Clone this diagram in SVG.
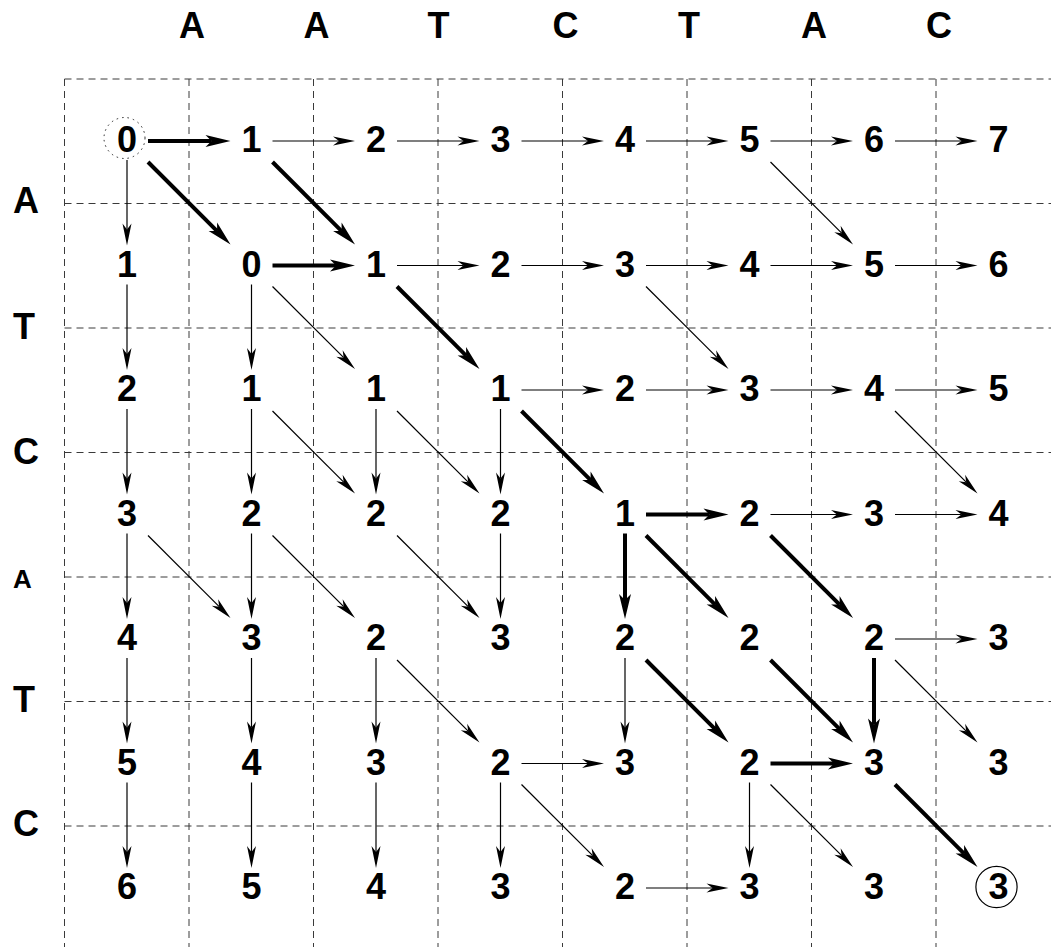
<svg xmlns="http://www.w3.org/2000/svg" width="1051" height="947" viewBox="0 0 1051 947">
<defs>
<style>
.grid line{stroke:#3a3a3a;stroke-width:1;stroke-dasharray:7 5;fill:none}
.lbl{font-family:"Liberation Sans",Arial,sans-serif;font-weight:bold;font-size:36px;fill:#000}
.hdr{text-anchor:middle}
.sm{font-size:26px}
.n text{font-family:"Liberation Sans",Arial,sans-serif;font-weight:bold;font-size:36px;fill:#000;text-anchor:middle}
.t{stroke:#000;stroke-width:1.2;fill:none;marker-end:url(#ht)}
.k{stroke:#000;stroke-width:4;fill:none;marker-end:url(#hk)}
</style>
<marker id="ht" markerUnits="userSpaceOnUse" orient="auto" refX="0" refY="0" markerWidth="1" markerHeight="1" overflow="visible">
<path d="M16,0 L-6,-4.5 L0,0 L-6,4.5 Z" fill="#000"/>
</marker>
<marker id="hk" markerUnits="userSpaceOnUse" orient="auto" refX="0" refY="0" markerWidth="1" markerHeight="1" overflow="visible">
<path d="M19,0 L-6,-6 L0,0 L-6,6 Z" fill="#000"/>
</marker>
</defs>
<rect width="1051" height="947" fill="#fff"/>
<g class="grid">
<line x1="64.5" y1="79" x2="64.5" y2="947"/>
<line x1="189" y1="79" x2="189" y2="947"/>
<line x1="313.5" y1="79" x2="313.5" y2="947"/>
<line x1="438" y1="79" x2="438" y2="947"/>
<line x1="562.5" y1="79" x2="562.5" y2="947"/>
<line x1="687" y1="79" x2="687" y2="947"/>
<line x1="811.5" y1="79" x2="811.5" y2="947"/>
<line x1="936" y1="79" x2="936" y2="947"/>
<line x1="64.5" y1="79" x2="1051" y2="79"/>
<line x1="64.5" y1="203.5" x2="1051" y2="203.5"/>
<line x1="64.5" y1="328" x2="1051" y2="328"/>
<line x1="64.5" y1="452.5" x2="1051" y2="452.5"/>
<line x1="64.5" y1="577" x2="1051" y2="577"/>
<line x1="64.5" y1="701.5" x2="1051" y2="701.5"/>
<line x1="64.5" y1="826" x2="1051" y2="826"/>
</g>
<g id="labels" class="lbl">
<text class="hdr" x="192" y="38">A</text>
<text class="hdr" x="316.5" y="38">A</text>
<text class="hdr" x="438.5" y="38">T</text>
<text class="hdr" x="565.5" y="38">C</text>
<text class="hdr" x="689" y="38">T</text>
<text class="hdr" x="814" y="38">A</text>
<text class="hdr" x="939" y="38">C</text>
<text x="13" y="213">A</text>
<text x="13" y="339">T</text>
<text x="13" y="463.5">C</text>
<text class="sm" x="13" y="587.5">A</text>
<text x="13" y="711.5">T</text>
<text x="13" y="836">C</text>
</g>
<g id="connectors">
<line class="k" x1="148" y1="141" x2="211.5" y2="141"/>
<line class="t" x1="272.5" y1="141" x2="339" y2="141"/>
<line class="t" x1="397" y1="141" x2="463.5" y2="141"/>
<line class="t" x1="521.5" y1="141" x2="588" y2="141"/>
<line class="t" x1="646" y1="141" x2="712.5" y2="141"/>
<line class="t" x1="770.5" y1="141" x2="837" y2="141"/>
<line class="t" x1="895" y1="141" x2="961.5" y2="141"/>
<line class="k" x1="272.5" y1="265.5" x2="336" y2="265.5"/>
<line class="t" x1="397" y1="265.5" x2="463.5" y2="265.5"/>
<line class="t" x1="521.5" y1="265.5" x2="588" y2="265.5"/>
<line class="t" x1="646" y1="265.5" x2="712.5" y2="265.5"/>
<line class="t" x1="770.5" y1="265.5" x2="837" y2="265.5"/>
<line class="t" x1="895" y1="265.5" x2="961.5" y2="265.5"/>
<line class="t" x1="521.5" y1="390" x2="588" y2="390"/>
<line class="t" x1="646" y1="390" x2="712.5" y2="390"/>
<line class="t" x1="770.5" y1="390" x2="837" y2="390"/>
<line class="t" x1="895" y1="390" x2="961.5" y2="390"/>
<line class="k" x1="646" y1="514.5" x2="709.5" y2="514.5"/>
<line class="t" x1="770.5" y1="514.5" x2="837" y2="514.5"/>
<line class="t" x1="895" y1="514.5" x2="961.5" y2="514.5"/>
<line class="t" x1="895" y1="639" x2="961.5" y2="639"/>
<line class="t" x1="521.5" y1="763.5" x2="588" y2="763.5"/>
<line class="k" x1="770.5" y1="763.5" x2="834" y2="763.5"/>
<line class="t" x1="646" y1="888" x2="712.5" y2="888"/>
<line class="t" x1="127" y1="160" x2="127" y2="229.5"/>
<line class="t" x1="127" y1="284.5" x2="127" y2="354"/>
<line class="t" x1="251.5" y1="284.5" x2="251.5" y2="354"/>
<line class="t" x1="127" y1="409" x2="127" y2="478.5"/>
<line class="t" x1="251.5" y1="409" x2="251.5" y2="478.5"/>
<line class="t" x1="376" y1="409" x2="376" y2="478.5"/>
<line class="t" x1="500.5" y1="409" x2="500.5" y2="478.5"/>
<line class="t" x1="127" y1="533.5" x2="127" y2="603"/>
<line class="t" x1="251.5" y1="533.5" x2="251.5" y2="603"/>
<line class="t" x1="500.5" y1="533.5" x2="500.5" y2="603"/>
<line class="k" x1="625" y1="533.5" x2="625" y2="600"/>
<line class="t" x1="127" y1="658" x2="127" y2="727.5"/>
<line class="t" x1="251.5" y1="658" x2="251.5" y2="727.5"/>
<line class="t" x1="376" y1="658" x2="376" y2="727.5"/>
<line class="t" x1="625" y1="658" x2="625" y2="727.5"/>
<line class="k" x1="874" y1="658" x2="874" y2="724.5"/>
<line class="t" x1="127" y1="782.5" x2="127" y2="852"/>
<line class="t" x1="251.5" y1="782.5" x2="251.5" y2="852"/>
<line class="t" x1="376" y1="782.5" x2="376" y2="852"/>
<line class="t" x1="500.5" y1="782.5" x2="500.5" y2="852"/>
<line class="t" x1="749.5" y1="782.5" x2="749.5" y2="852"/>
<line class="k" x1="148" y1="162" x2="217.1" y2="231.1"/>
<line class="k" x1="272.5" y1="162" x2="341.6" y2="231.1"/>
<line class="t" x1="770.5" y1="162" x2="841.7" y2="233.2"/>
<line class="t" x1="272.5" y1="286.5" x2="343.7" y2="357.7"/>
<line class="k" x1="397" y1="286.5" x2="466.1" y2="355.6"/>
<line class="t" x1="646" y1="286.5" x2="717.2" y2="357.7"/>
<line class="t" x1="272.5" y1="411" x2="343.7" y2="482.2"/>
<line class="t" x1="397" y1="411" x2="468.2" y2="482.2"/>
<line class="k" x1="521.5" y1="411" x2="590.6" y2="480.1"/>
<line class="t" x1="895" y1="411" x2="966.2" y2="482.2"/>
<line class="t" x1="148" y1="535.5" x2="219.2" y2="606.7"/>
<line class="t" x1="272.5" y1="535.5" x2="343.7" y2="606.7"/>
<line class="t" x1="397" y1="535.5" x2="468.2" y2="606.7"/>
<line class="k" x1="646" y1="535.5" x2="715.1" y2="604.6"/>
<line class="k" x1="770.5" y1="535.5" x2="839.6" y2="604.6"/>
<line class="t" x1="397" y1="660" x2="468.2" y2="731.2"/>
<line class="k" x1="646" y1="660" x2="715.1" y2="729.1"/>
<line class="k" x1="770.5" y1="660" x2="839.6" y2="729.1"/>
<line class="t" x1="895" y1="660" x2="966.2" y2="731.2"/>
<line class="t" x1="521.5" y1="784.5" x2="592.7" y2="855.7"/>
<line class="t" x1="770.5" y1="784.5" x2="841.7" y2="855.7"/>
<line class="k" x1="895" y1="784.5" x2="964.1" y2="853.6"/>
</g>
<g id="nodes" class="n">
<g id="n0-0"><circle cx="124.5" cy="138" r="20.5" fill="none" stroke="#222" stroke-width="1" stroke-dasharray="1.5 4"/><text x="127" y="152">0</text></g>
<g id="n0-1"><text x="251.5" y="152">1</text></g>
<g id="n0-2"><text x="376" y="152">2</text></g>
<g id="n0-3"><text x="500.5" y="152">3</text></g>
<g id="n0-4"><text x="625" y="152">4</text></g>
<g id="n0-5"><text x="749.5" y="152">5</text></g>
<g id="n0-6"><text x="874" y="152">6</text></g>
<g id="n0-7"><text x="998.5" y="152">7</text></g>
<g id="n1-0"><text x="127" y="276.5">1</text></g>
<g id="n1-1"><text x="251.5" y="276.5">0</text></g>
<g id="n1-2"><text x="376" y="276.5">1</text></g>
<g id="n1-3"><text x="500.5" y="276.5">2</text></g>
<g id="n1-4"><text x="625" y="276.5">3</text></g>
<g id="n1-5"><text x="749.5" y="276.5">4</text></g>
<g id="n1-6"><text x="874" y="276.5">5</text></g>
<g id="n1-7"><text x="998.5" y="276.5">6</text></g>
<g id="n2-0"><text x="127" y="401">2</text></g>
<g id="n2-1"><text x="251.5" y="401">1</text></g>
<g id="n2-2"><text x="376" y="401">1</text></g>
<g id="n2-3"><text x="500.5" y="401">1</text></g>
<g id="n2-4"><text x="625" y="401">2</text></g>
<g id="n2-5"><text x="749.5" y="401">3</text></g>
<g id="n2-6"><text x="874" y="401">4</text></g>
<g id="n2-7"><text x="998.5" y="401">5</text></g>
<g id="n3-0"><text x="127" y="525.5">3</text></g>
<g id="n3-1"><text x="251.5" y="525.5">2</text></g>
<g id="n3-2"><text x="376" y="525.5">2</text></g>
<g id="n3-3"><text x="500.5" y="525.5">2</text></g>
<g id="n3-4"><text x="625" y="525.5">1</text></g>
<g id="n3-5"><text x="749.5" y="525.5">2</text></g>
<g id="n3-6"><text x="874" y="525.5">3</text></g>
<g id="n3-7"><text x="998.5" y="525.5">4</text></g>
<g id="n4-0"><text x="127" y="650">4</text></g>
<g id="n4-1"><text x="251.5" y="650">3</text></g>
<g id="n4-2"><text x="376" y="650">2</text></g>
<g id="n4-3"><text x="500.5" y="650">3</text></g>
<g id="n4-4"><text x="625" y="650">2</text></g>
<g id="n4-5"><text x="749.5" y="650">2</text></g>
<g id="n4-6"><text x="874" y="650">2</text></g>
<g id="n4-7"><text x="998.5" y="650">3</text></g>
<g id="n5-0"><text x="127" y="774.5">5</text></g>
<g id="n5-1"><text x="251.5" y="774.5">4</text></g>
<g id="n5-2"><text x="376" y="774.5">3</text></g>
<g id="n5-3"><text x="500.5" y="774.5">2</text></g>
<g id="n5-4"><text x="625" y="774.5">3</text></g>
<g id="n5-5"><text x="749.5" y="774.5">2</text></g>
<g id="n5-6"><text x="874" y="774.5">3</text></g>
<g id="n5-7"><text x="998.5" y="774.5">3</text></g>
<g id="n6-0"><text x="127" y="899">6</text></g>
<g id="n6-1"><text x="251.5" y="899">5</text></g>
<g id="n6-2"><text x="376" y="899">4</text></g>
<g id="n6-3"><text x="500.5" y="899">3</text></g>
<g id="n6-4"><text x="625" y="899">2</text></g>
<g id="n6-5"><text x="749.5" y="899">3</text></g>
<g id="n6-6"><text x="874" y="899">3</text></g>
<g id="n6-7"><circle cx="996.5" cy="887" r="20.6" fill="none" stroke="#000" stroke-width="1.2"/><text x="998.5" y="899">3</text></g>
</g>
</svg>
